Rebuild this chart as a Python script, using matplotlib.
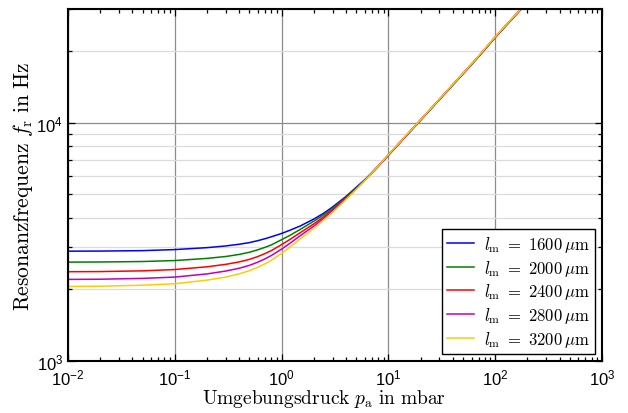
import numpy as np
import matplotlib
matplotlib.use("Agg")
import matplotlib.pyplot as plt

plt.rcParams['font.family'] = ['Liberation Sans', 'DejaVu Sans']
plt.rcParams['mathtext.fontset'] = 'cm'

# Umgebungsdruck in mbar
p_a = [0.01, 0.02, 0.05, 0.1, 0.2, 0.3, 0.4, 0.5, 0.6, 0.7, 0.8, 1.0, 1.2, 1.5, 2.0, 2.5,
       3.0, 4.0, 5.0, 6.0, 7.0, 8.0, 10, 15, 20, 30, 50, 70, 100, 150, 200]

# Resonanzfrequenz in Hz, je Membranlaenge
f_1600 = [2890, 2893, 2905, 2935, 2990, 3040, 3090, 3140, 3200, 3260, 3320, 3430, 3540, 3690, 3940, 4180,
          4430, 4900, 5360, 5760, 6170, 6560, 7300, 8900, 10250, 12500, 16050, 18950, 22800, 27800, 32000]
f_2000 = [2600, 2603, 2615, 2640, 2695, 2745, 2800, 2860, 2930, 3000, 3070, 3230, 3370, 3570, 3860, 4120,
          4370, 4860, 5320, 5740, 6160, 6560, 7310, 8910, 10260, 12510, 16070, 18970, 22830, 27840, 32040]
f_2400 = [2370, 2373, 2390, 2420, 2485, 2545, 2605, 2670, 2745, 2825, 2905, 3080, 3240, 3460, 3760, 4040,
          4310, 4820, 5290, 5730, 6155, 6560, 7320, 8920, 10270, 12520, 16090, 18990, 22860, 27880, 32080]
f_2800 = [2200, 2204, 2222, 2250, 2320, 2385, 2450, 2520, 2600, 2685, 2770, 2950, 3120, 3360, 3680, 3980,
          4260, 4790, 5270, 5720, 6150, 6560, 7330, 8930, 10280, 12530, 16110, 19010, 22890, 27920, 32120]
f_3200 = [2055, 2060, 2080, 2110, 2185, 2250, 2320, 2395, 2475, 2560, 2645, 2830, 3010, 3260, 3600, 3920,
          4210, 4760, 5250, 5710, 6150, 6565, 7340, 8940, 10290, 12550, 16130, 19050, 22920, 27950, 32160]

lengths = ['1600', '2000', '2400', '2800', '3200']
series = [f_1600, f_2000, f_2400, f_2800, f_3200]
colors = ['#0000ff', '#008000', '#ff0000', '#bf00bf', '#ffcc00']

fig = plt.figure(figsize=(6.28, 4.14), dpi=100)
ax = fig.add_axes([0.1083, 0.1256, 0.8503, 0.8502])

for f, l, c in zip(series, lengths, colors):
    ax.plot(p_a, f, color=c, linewidth=1.1,
            label=r'$l_\mathrm{m}\ =\ ' + l + r'\,\mu\mathrm{m}$')

ax.set_xscale('log')
ax.set_yscale('log')
ax.set_xlim(1e-2, 1e3)
ax.set_ylim(1e3, 3e4)

ax.grid(which='major', axis='both', color='#8c8c8c', linewidth=0.9)
ax.grid(which='minor', axis='y', color='#dcdcdc', linewidth=0.9)
ax.set_axisbelow(True)

ax.tick_params(which='both', direction='in', top=True, right=True, labelsize=12, width=0.9)
ax.tick_params(which='major', length=5)
ax.tick_params(which='minor', length=3)
ax.tick_params(axis='x', pad=5)
ax.yaxis.set_minor_formatter(matplotlib.ticker.NullFormatter())
for s in ax.spines.values():
    s.set_linewidth(1.5)

ax.set_xlabel(r'$\mathrm{Umgebungsdruck}\ p_\mathrm{a}\ \mathrm{in\ mbar}$', fontsize=14, labelpad=1)
ax.xaxis.set_label_coords(0.48, -0.075)
ax.set_ylabel(r'$\mathrm{Resonanzfrequenz}\ f_\mathrm{r}\ \mathrm{in\ Hz}$', fontsize=15.5, labelpad=1)

leg = ax.legend(loc='lower right', fontsize=12, fancybox=False, framealpha=1,
                edgecolor='black', handlelength=1.6, handletextpad=0.6,
                labelspacing=0.22, borderpad=0.3, borderaxespad=0.45)
leg.get_frame().set_linewidth(1.0)

fig.savefig('out.png', dpi=100)
